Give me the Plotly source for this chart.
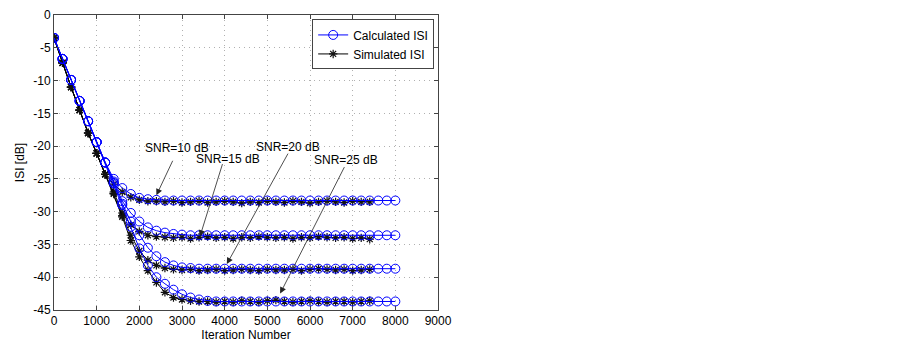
import plotly.graph_objects as go

# ---------------- data ----------------
iter_calc = list(range(0, 8001, 200))
iter_sim = list(range(0, 7401, 200))

calc_snr10 = [-3.5, -6.7, -9.9, -13.1, -16.2, -19.4, -22.5, -25.0, -26.4, -27.3, -27.9, -28.1, -28.2,
              -28.3, -28.3, -28.3, -28.3, -28.3, -28.3, -28.3, -28.3, -28.3, -28.3, -28.3, -28.3, -28.3,
              -28.3, -28.3, -28.3, -28.3, -28.3, -28.3, -28.3, -28.3, -28.3, -28.3, -28.3, -28.3, -28.3,
              -28.3, -28.3]
calc_snr15 = [-3.5, -6.7, -9.9, -13.1, -16.2, -19.4, -22.5, -25.4, -28.4, -30.2, -31.5, -32.4, -32.9,
              -33.2, -33.4, -33.5, -33.6, -33.6, -33.6, -33.6, -33.6, -33.6, -33.6, -33.6, -33.6, -33.6,
              -33.6, -33.6, -33.6, -33.6, -33.6, -33.6, -33.6, -33.6, -33.6, -33.6, -33.6, -33.6, -33.6,
              -33.6, -33.6]
calc_snr20 = [-3.5, -6.7, -9.9, -13.1, -16.2, -19.4, -22.5, -25.6, -28.8, -31.5, -33.6, -35.5, -36.8,
              -37.7, -38.2, -38.5, -38.6, -38.7, -38.7, -38.7, -38.7, -38.7, -38.7, -38.7, -38.7, -38.7,
              -38.7, -38.7, -38.7, -38.7, -38.7, -38.7, -38.7, -38.7, -38.7, -38.7, -38.7, -38.7, -38.7,
              -38.7, -38.7]
calc_snr25 = [-3.5, -6.7, -9.9, -13.1, -16.2, -19.4, -22.5, -25.7, -29.0, -32.3, -35.6, -38.2, -40.0,
              -41.0, -41.9, -42.6, -43.1, -43.4, -43.6, -43.7, -43.7, -43.7, -43.7, -43.7, -43.7, -43.7,
              -43.7, -43.7, -43.7, -43.7, -43.7, -43.7, -43.7, -43.7, -43.7, -43.7, -43.7, -43.7, -43.7,
              -43.7, -43.7]

sim_snr10 = [-3.5, -7.3, -11.0, -14.5, -18.0, -21.1, -24.3, -25.8, -27.0, -27.8, -28.2, -28.4, -28.4,
             -28.5, -28.4, -28.6, -28.5, -28.4, -28.6, -28.5, -28.4, -28.5, -28.7, -28.5, -28.6, -28.4,
             -28.5, -28.6, -28.4, -28.5, -28.7, -28.5, -28.4, -28.5, -28.6, -28.4, -28.5, -28.5]
sim_snr15 = [-3.5, -7.3, -11.0, -14.5, -18.0, -21.1, -24.3, -27.0, -30.2, -32.0, -33.0, -33.6, -33.8,
             -33.9, -34.0, -33.9, -34.1, -33.9, -33.8, -34.0, -33.9, -34.1, -33.9, -34.0, -33.8, -33.9,
             -34.0, -33.9, -34.1, -33.9, -34.0, -33.8, -33.9, -34.0, -33.9, -34.1, -34.0, -34.2]
sim_snr20 = [-3.5, -7.3, -11.0, -14.5, -18.0, -21.1, -24.3, -27.2, -30.6, -33.6, -36.0, -37.4, -38.2,
             -38.6, -38.8, -38.9, -38.8, -39.0, -38.9, -38.8, -39.0, -38.9, -38.8, -38.9, -39.0, -38.8,
             -38.9, -38.9, -38.8, -39.0, -38.8, -38.7, -38.8, -38.9, -38.8, -39.0, -38.9, -38.8]
sim_snr25 = [-3.5, -7.3, -11.0, -14.5, -18.0, -21.1, -24.3, -27.3, -30.8, -34.4, -36.9, -39.0, -40.8,
             -42.3, -43.1, -43.4, -43.6, -43.7, -43.7, -43.8, -43.7, -43.8, -43.6, -43.7, -43.8, -43.6,
             -43.5, -43.7, -43.8, -43.7, -43.6, -43.7, -43.8, -43.7, -43.7, -43.8, -43.7, -43.6]

x_ticks = list(range(0, 9001, 1000))
x_ticktext = [str(v) for v in x_ticks]
y_ticks = list(range(-45, 1, 5))
y_ticktext = [str(v) for v in y_ticks]

snr_labels = ["SNR=10 dB", "SNR=15 dB", "SNR=20 dB", "SNR=25 dB"]
label_pos = [(2880, -20.3), (4080, -22.0), (5480, -20.2), (6840, -22.15)]
arrow_tips = [(2400, -27.5), (3420, -33.8), (4050, -38.0), (5300, -42.5)]
arrow_offsets = [(17, -36), (23, -74), (62, -112), (65, -128)]

calc_series = [calc_snr10, calc_snr15, calc_snr20, calc_snr25]
sim_series = [sim_snr10, sim_snr15, sim_snr20, sim_snr25]

BLUE = "#0000ff"
FONT = "Liberation Sans, Arial, sans-serif"

fig = go.Figure()

for i, ys in enumerate(sim_series):
    fig.add_trace(go.Scatter(
        x=iter_sim, y=ys, mode="lines+markers",
        line=dict(color="#000000", width=1),
        marker=dict(symbol="asterisk-open", size=7, color="#111111", line=dict(width=1.2, color="#111111")),
        name="Simulated ISI", showlegend=(i == 0), legendrank=2))

for i, ys in enumerate(calc_series):
    fig.add_trace(go.Scatter(
        x=iter_calc, y=ys, mode="lines+markers",
        line=dict(color=BLUE, width=1),
        marker=dict(symbol="circle-open", size=9, color=BLUE, line=dict(width=1)),
        name="Calculated ISI", showlegend=(i == 0), legendrank=1))

annotations = []
for lab, (tx, ty) in zip(snr_labels, label_pos):
    annotations.append(dict(x=tx, y=ty, xref="x", yref="y", text=lab, showarrow=False,
                            font=dict(family=FONT, size=12, color="#000000")))
for (hx, hy), (ax, ay) in zip(arrow_tips, arrow_offsets):
    annotations.append(dict(x=hx, y=hy, xref="x", yref="y", text="", showarrow=True,
                            ax=ax, ay=ay, arrowhead=2, arrowsize=1.6, arrowwidth=0.8,
                            arrowcolor="#222222", standoff=0))

fig.update_layout(
    width=895, height=337,
    margin=dict(l=46, r=465, t=7, b=35, autoexpand=False),
    paper_bgcolor="white", plot_bgcolor="white",
    font=dict(family=FONT, size=12, color="#000000"),
    showlegend=True,
    legend=dict(x=0.99, y=0.985, xanchor="right", yanchor="top",
                bgcolor="white", bordercolor="#444444", borderwidth=1,
                font=dict(family=FONT, size=12), tracegroupgap=0,
                itemwidth=30),
    annotations=annotations,
)

fig.update_xaxes(
    range=[0, 9000], tickvals=x_ticks, ticktext=x_ticktext, automargin=False,
    showline=True, linecolor="#444444", linewidth=1, mirror="ticks",
    ticks="inside", ticklen=4, tickcolor="#444444",
    showgrid=True, gridcolor="#b0b0b0", griddash="1px,4px", gridwidth=1,
    zeroline=False, ticklabeloverflow="allow",
    title=dict(text="Iteration Number", font=dict(family=FONT, size=12), standoff=2),
    tickfont=dict(family=FONT, size=12),
)
fig.update_yaxes(
    range=[-45, 0], tickvals=y_ticks, ticktext=y_ticktext, automargin=False,
    showline=True, linecolor="#444444", linewidth=1, mirror="ticks",
    ticks="inside", ticklen=4, tickcolor="#444444",
    showgrid=True, gridcolor="#b0b0b0", griddash="1px,4px", gridwidth=1,
    zeroline=False, ticklabeloverflow="allow",
    title=dict(text="ISI [dB]", font=dict(family=FONT, size=12), standoff=6),
    tickfont=dict(family=FONT, size=12),
)

fig.write_html("out.html")
